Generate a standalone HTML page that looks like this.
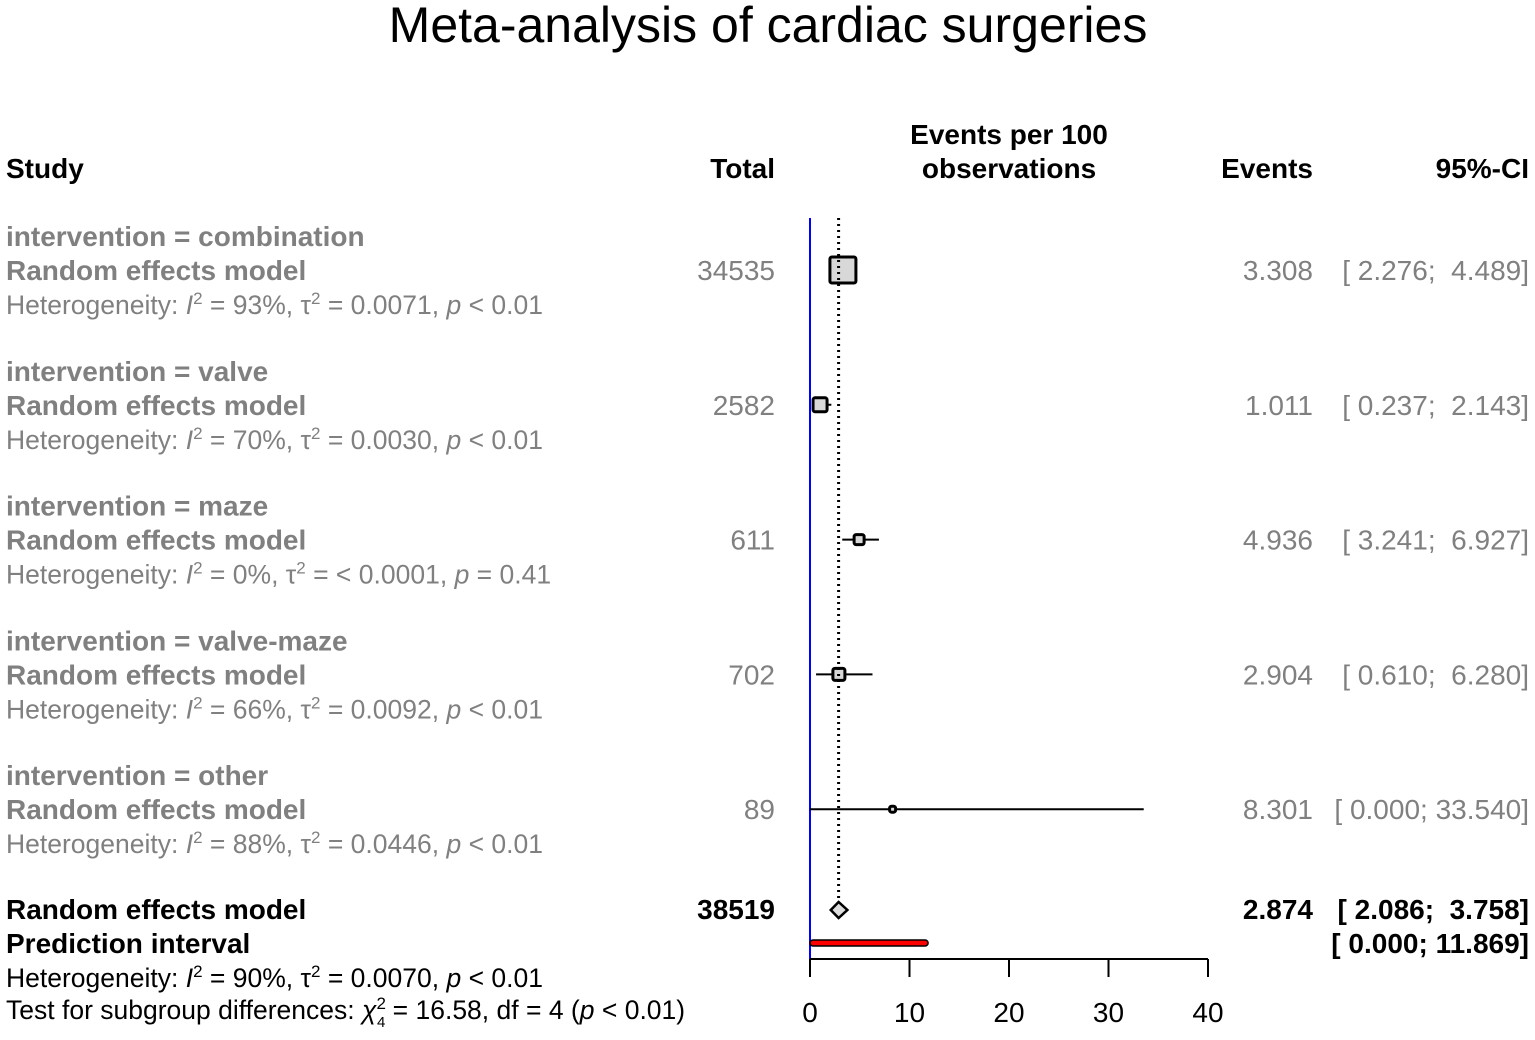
<!DOCTYPE html>
<html><head><meta charset="utf-8"><style>
body{margin:0;background:#fff;width:1535px;height:1035px;overflow:hidden}
svg text{font-family:"Liberation Sans",Arial,sans-serif;white-space:pre}
</style></head><body>
<svg width="1535" height="1035">
<text x="768" y="42" font-size="50" text-anchor="middle">Meta-analysis of cardiac surgeries</text>
<g font-weight="bold" font-size="28">
<text x="6" y="178">Study</text>
<text x="775" y="178" text-anchor="end">Total</text>
<text x="1009" y="144" text-anchor="middle">Events per 100</text>
<text x="1009" y="178" text-anchor="middle">observations</text>
<text x="1313" y="178" text-anchor="end">Events</text>
<text x="1529" y="178" text-anchor="end">95%-CI</text>
</g>
<g id="rows"></g>
<line x1="810" y1="218" x2="810" y2="959" stroke="#0000ff" stroke-width="2"/>
<g id="marks"></g>
<g id="axis"></g>
<g font-size="26.5">
<text x="6" y="919" font-weight="bold" font-size="28">Random effects model</text>
<text x="6" y="953" font-weight="bold" font-size="28">Prediction interval</text>
<text x="775" y="919" font-weight="bold" font-size="28" text-anchor="end">38519</text>
<text x="1313" y="919" font-weight="bold" font-size="28" text-anchor="end">2.874</text>
<text x="1529" y="919" font-weight="bold" font-size="28" text-anchor="end">[ 2.086;  3.758]</text>
<text x="1529" y="953" font-weight="bold" font-size="28" text-anchor="end">[ 0.000; 11.869]</text>
<text x="6" y="987">Heterogeneity: <tspan font-style="italic">I</tspan><tspan dy="-10" font-size="17">2</tspan><tspan dy="10"> = 90%, τ</tspan><tspan dy="-10" font-size="17">2</tspan><tspan dy="10"> = 0.0070, </tspan><tspan font-style="italic">p</tspan> &lt; 0.01</text>
<text x="6" y="1019">Test for subgroup differences: <tspan font-style="italic">χ</tspan><tspan dy="-10" font-size="17">2</tspan><tspan dy="18" dx="-9" font-size="15">4</tspan><tspan dy="-8"> = 16.58, df = 4 (</tspan><tspan font-style="italic">p</tspan> &lt; 0.01)</text>
</g>
</svg>
<script>
const groups=["combination","valve","maze","valve-maze","other"];
const totals=["34535","2582","611","702","89"];
const est=[3.308,1.011,4.936,2.904,8.301];
const lo=[2.276,0.237,3.241,0.610,0.000];
const hi=[4.489,2.143,6.927,6.280,33.540];
const i2=["93%","70%","0%","66%","88%"];
const tau2=["0.0071","0.0030","< 0.0001","0.0092","0.0446"];
const pval=["< 0.01","< 0.01","= 0.41","< 0.01","< 0.01"];
const boxSize=[26,14,10,12,6];
const overall=[2.874,2.086,3.758];
const pred=[0,11.869];
const ticks=[0,10,20,30,40];
const NS="http://www.w3.org/2000/svg";
const x=v=>810+v*9.95;
function el(t,a,p,txt){const e=document.createElementNS(NS,t);for(const k in a)e.setAttribute(k,a[k]);if(txt!==undefined)e.innerHTML=txt;p.appendChild(e);return e;}
const rows=document.getElementById('rows'),marks=document.getElementById('marks'),axis=document.getElementById('axis');
const fmt=v=>v.toFixed(3);
groups.forEach((g,i)=>{
 const y0=246+i*134.8;
 const gg=el('g',{fill:'#808080','font-size':'28'},rows);
 
 
 el('text',{x:6,y:y0,'font-weight':'bold'},gg,'intervention = '+g);
 el('text',{x:6,y:y0+34,'font-weight':'bold'},gg,'Random effects model');
 el('text',{x:6,y:y0+68,'font-size':'26.5'},gg,'Heterogeneity: <tspan font-style="italic">I</tspan><tspan dy="-10" font-size="17">2</tspan><tspan dy="10"> = '+i2[i]+', τ</tspan><tspan dy="-10" font-size="17">2</tspan><tspan dy="10"> = '+tau2[i]+', </tspan><tspan font-style="italic">p</tspan> '+pval[i]);
 el('text',{x:775,y:y0+34,'text-anchor':'end'},gg,totals[i]);
 el('text',{x:1313,y:y0+34,'text-anchor':'end'},gg,fmt(est[i]));
 const l=lo[i].toFixed(3),h=hi[i].toFixed(3);
 el('text',{x:1529,y:y0+34,'text-anchor':'end'},gg,'[ '+l+';'+(h.length<6?'  ':' ')+h+']');
 const yc=y0+24;
 const m=el('g',{},marks);
 
 
 el('line',{x1:x(lo[i]),x2:x(hi[i]),y1:yc,y2:yc,stroke:'#000','stroke-width':2},m);
 const s=boxSize[i];
 el('rect',{x:x(est[i])-s/2,y:yc-s/2,width:s,height:s,fill:'#d8d8d8',stroke:'#000','stroke-width':3,rx:2},m);
});
const dl=el('line',{x1:x(overall[0]),x2:x(overall[0]),y1:218,y2:900,stroke:'#000','stroke-width':3,'stroke-dasharray':'2 4'},marks);


const dm=el('polygon',{points:`${x(overall[1])},910 ${x(overall[0])},902 ${x(overall[2])},910 ${x(overall[0])},918`,fill:'#ddd',stroke:'#000','stroke-width':2.5},marks);


const pr=el('rect',{x:x(pred[0]),y:940,width:x(pred[1])-x(pred[0]),height:6,fill:'#f00',stroke:'#000','stroke-width':1.5,rx:3},marks);


const al=el('line',{x1:x(ticks[0]),x2:x(ticks[ticks.length-1]),y1:959,y2:959,stroke:'#000','stroke-width':2},axis);


ticks.forEach(t=>{
 el('line',{x1:x(t),x2:x(t),y1:959,y2:977,stroke:'#000','stroke-width':2},axis);
 const tl=el('text',{x:x(t),y:1022,'font-size':'28','text-anchor':'middle'},axis,String(t));
 
 
});
</script>
</body></html>
